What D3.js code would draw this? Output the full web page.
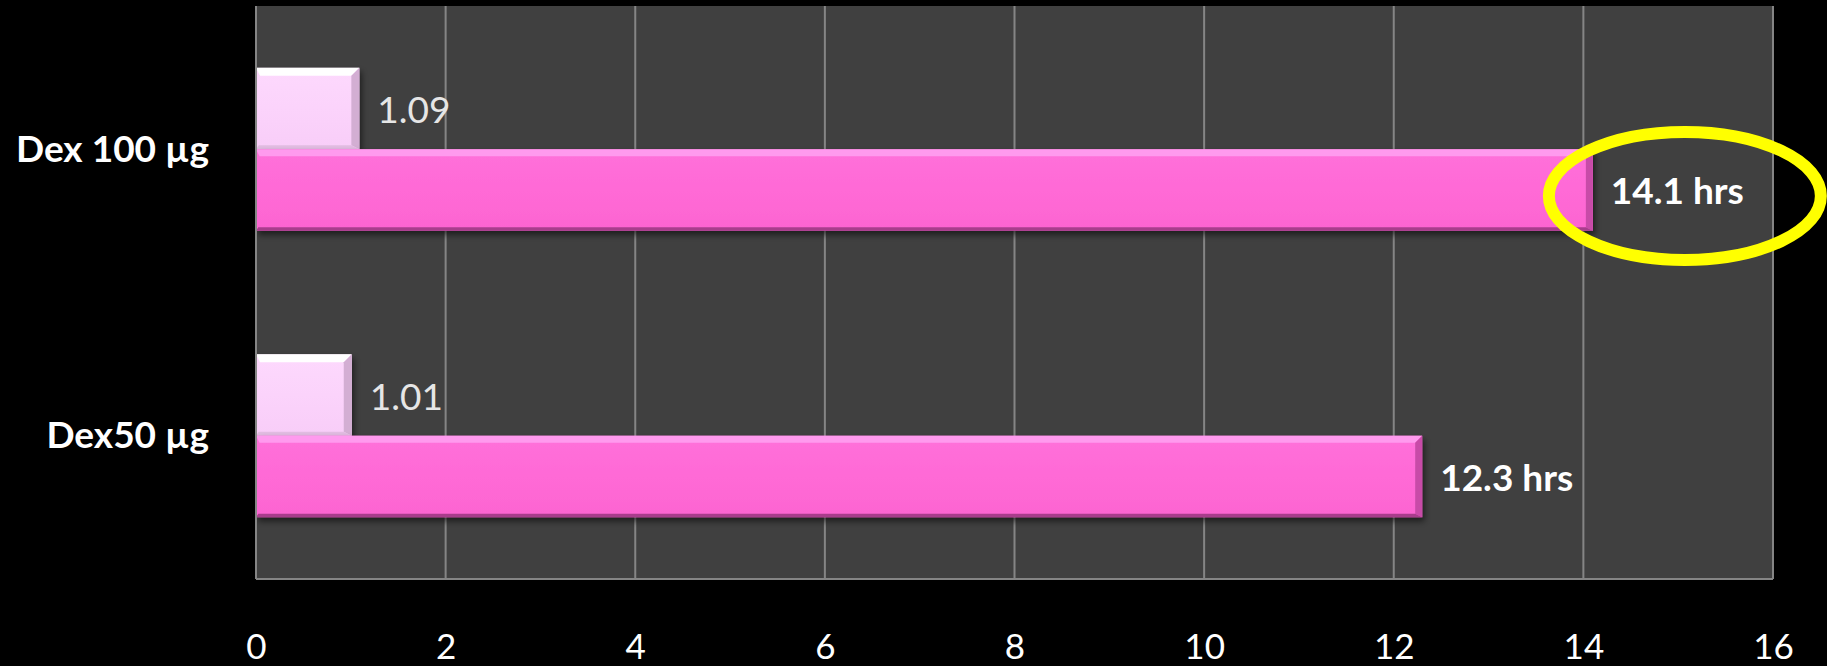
<!DOCTYPE html>
<html>
<head>
<meta charset="utf-8">
<script src="https://cdn.jsdelivr.net/npm/d3@7"></script>
<style>
  html, body { margin: 0; padding: 0; background: #000; }
  svg { display: block; }
</style>
</head>
<body>
<svg id="chart" width="1827" height="666"></svg>
<script>
// Duration data per dexamethasone dose
const categories = ["Dex 100 µg", "Dex50 µg"];
const shortValues = [1.09, 1.01];     // light bars
const longValues = [14.1, 12.3];      // pink bars (hours)
const longLabels = ["14.1 hrs", "12.3 hrs"];
const xTicks = [0, 2, 4, 6, 8, 10, 12, 14, 16];
const highlightIndex = 0;             // circled value

const W = 1827, H = 666;
const plot = { left: 256, right: 1773, top: 6, bottom: 579 };
const FONT = "Lato, 'Open Sans', sans-serif";

const svg = d3.select("#chart");
svg.append("rect").attr("width", W).attr("height", H).attr("fill", "#000");

const x = d3.scaleLinear().domain([0, 16]).range([plot.left, plot.right]);
const y = d3.scaleBand().domain(categories).range([plot.top, plot.bottom]);
const inner = d3.scaleBand().domain(["short", "long"]).range([0, y.bandwidth()]).paddingOuter(0.76).paddingInner(0);

// defs: shadow and bevel gradients
const defs = svg.append("defs");
const sh = defs.append("filter").attr("id", "shadow").attr("x", "-5%").attr("y", "-20%").attr("width", "115%").attr("height", "160%");
sh.append("feDropShadow").attr("dx", 2).attr("dy", 4).attr("stdDeviation", 3).attr("flood-color", "#000").attr("flood-opacity", 0.55);

function vGrad(id, stops) {
  const g = defs.append("linearGradient").attr("id", id).attr("x1", 0).attr("y1", 0).attr("x2", 0).attr("y2", 1);
  stops.forEach(s => g.append("stop").attr("offset", s[0]).attr("stop-color", s[1]));
}
vGrad("lightFill", [[0, "#fdd9fd"], [0.5, "#fbd3fb"], [1, "#f8cdf8"]]);
vGrad("pinkFill", [[0, "#ff70da"], [0.5, "#ff6ad6"], [1, "#fc64d1"]]);

// plot background
svg.append("rect")
  .attr("x", plot.left).attr("y", plot.top)
  .attr("width", plot.right - plot.left).attr("height", plot.bottom - plot.top)
  .attr("fill", "#404040");

// vertical grid lines
svg.append("g").selectAll("line").data(xTicks).join("line")
  .attr("x1", d => x(d)).attr("x2", d => x(d))
  .attr("y1", plot.top).attr("y2", plot.bottom)
  .attr("stroke", "#858585").attr("stroke-width", 2);

// bottom frame line
svg.append("line").attr("x1", plot.left).attr("x2", plot.right)
  .attr("y1", plot.bottom).attr("y2", plot.bottom)
  .attr("stroke", "#858585").attr("stroke-width", 2);

// x axis tick labels
const xAxis = d3.axisBottom(x).tickValues(xTicks).tickSize(0).tickPadding(0).tickFormat(d3.format("d"));
const ax = svg.append("g").attr("transform", `translate(0, ${plot.bottom})`).call(xAxis);
ax.select(".domain").remove();
ax.selectAll("text")
  .attr("y", 80).attr("dy", "0")
  .attr("fill", "#ffffff")
  .style("font-family", FONT).style("font-size", "35px");

// bevelled bar
function bar(g, x0, x1, yt, h, style) {
  const w = x1 - x0;
  const grp = g.append("g").attr("filter", "url(#shadow)");
  grp.append("rect").attr("x", x0).attr("y", yt).attr("width", w).attr("height", h)
    .attr("fill", style.fill);
  const b = style.bevel;
  // top bevel
  grp.append("path")
    .attr("d", `M${x0},${yt} L${x1},${yt} L${x1 - b},${yt + b} L${x0 + b / 2},${yt + b} Z`)
    .attr("fill", style.top);
  // right bevel
  grp.append("path")
    .attr("d", `M${x1},${yt} L${x1},${yt + h} L${x1 - b},${yt + h - b / 2} L${x1 - b},${yt + b} Z`)
    .attr("fill", style.right);
  // bottom bevel
  grp.append("path")
    .attr("d", `M${x0},${yt + h} L${x1},${yt + h} L${x1 - b},${yt + h - b / 2} L${x0 + b / 3},${yt + h - b / 2} Z`)
    .attr("fill", style.bottom);
}

const lightStyle = { fill: "url(#lightFill)", top: "#ffffff", right: "#d3aed3", bottom: "#e2bce2", bevel: 8 };
const pinkStyle = { fill: "url(#pinkFill)", top: "#ff9aee", right: "#c84ca8", bottom: "#a83c8c", bevel: 7 };

const bars = svg.append("g");
categories.forEach((c, i) => {
  const yS = y(c) + inner("short");
  const yL = y(c) + inner("long");
  const bh = inner.bandwidth();
  bar(bars, x(0), x(shortValues[i]), yS, bh, lightStyle);
  bar(bars, x(0), x(longValues[i]), yL, bh, pinkStyle);
});

// left axis line drawn over bars
svg.append("line").attr("x1", plot.left).attr("x2", plot.left)
  .attr("y1", plot.top).attr("y2", plot.bottom)
  .attr("stroke", "#858585").attr("stroke-width", 2);

// value labels
const labels = svg.append("g").style("font-family", FONT);
categories.forEach((c, i) => {
  const bh = inner.bandwidth();
  labels.append("text")
    .attr("x", x(shortValues[i]) + 18)
    .attr("y", y(c) + inner("short") + bh / 2)
    .attr("dominant-baseline", "central")
    .attr("fill", "#e6e6e6")
    .style("font-size", "37px")
    .text(d3.format(".2f")(shortValues[i]));
  labels.append("text")
    .attr("x", x(longValues[i]) + 18)
    .attr("y", y(c) + inner("long") + bh / 2)
    .attr("dominant-baseline", "central")
    .attr("fill", "#ffffff")
    .style("font-size", "37px").style("font-weight", "bold")
    .text(longLabels[i]);
});

// category labels
svg.append("g").selectAll("text").data(categories).join("text")
  .attr("x", 209)
  .attr("y", d => y(d) + y.bandwidth() / 2 - 2)
  .attr("text-anchor", "end")
  .attr("dominant-baseline", "central")
  .attr("fill", "#ffffff")
  .style("font-family", FONT).style("font-size", "37px").style("font-weight", "bold")
  .text(d => d);

// highlight ring around the longest duration
const hc = categories[highlightIndex];
svg.append("ellipse")
  .attr("cx", x(longValues[highlightIndex]) + 92)
  .attr("cy", y(hc) + inner("long") + inner.bandwidth() / 2 + 6)
  .attr("rx", 136).attr("ry", 64)
  .attr("fill", "none")
  .attr("stroke", "#ffff00").attr("stroke-width", 12);
</script>
</body>
</html>
